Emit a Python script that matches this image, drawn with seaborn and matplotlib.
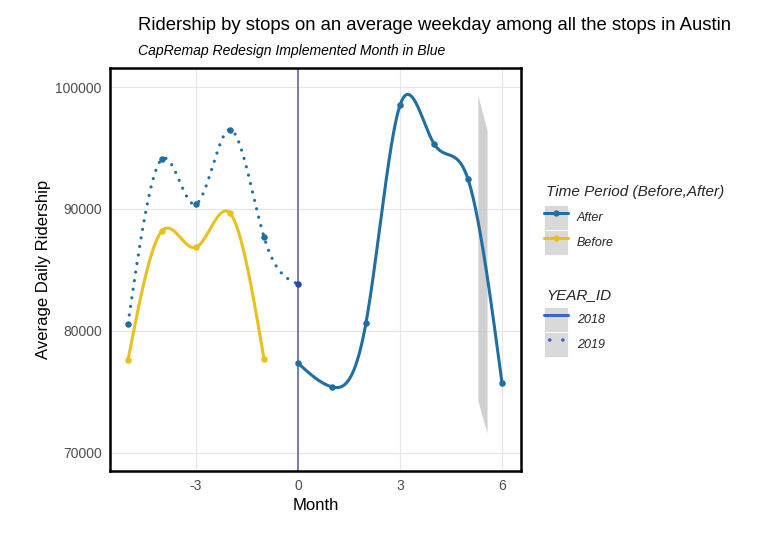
import numpy as np
import pandas as pd
import matplotlib
matplotlib.use("Agg")
import matplotlib.pyplot as plt
import seaborn as sns
from matplotlib.lines import Line2D
from matplotlib.patches import Patch
from matplotlib.legend_handler import HandlerTuple

# ---- data ----
months_before_2018 = [-5, -4, -3, -2, -1]
ridership_before_2018 = [77600, 88200, 86850, 89650, 77700]

months_2019 = [-5, -4, -3, -2, -1, 0]
ridership_2019 = [80600, 94100, 90400, 96500, 87700, 83850]

months_after_2018 = [0, 1, 2, 3, 4, 5, 6]
ridership_after_2018 = [77350, 75400, 80650, 98500, 95350, 92450, 75750]

ribbon_x = [5.29, 5.56]
ribbon_lo = [74300, 71600]
ribbon_hi = [99300, 96500]

x_ticks = [-3, 0, 3, 6]
y_ticks = [70000, 80000, 90000, 100000]

C_AFTER = "#1f6fa3"
C_BEFORE = "#e8c020"
C_YEAR = "#4060d0"
C_VLINE = "#5a5aa8"


def natural_spline(x, y, n=300):
    x = np.asarray(x, float)
    y = np.asarray(y, float)
    k = len(x)
    h = np.diff(x)
    A = np.zeros((k, k))
    b = np.zeros(k)
    A[0, 0] = 1
    A[-1, -1] = 1
    for i in range(1, k - 1):
        A[i, i - 1] = h[i - 1]
        A[i, i] = 2 * (h[i - 1] + h[i])
        A[i, i + 1] = h[i]
        b[i] = 6 * ((y[i + 1] - y[i]) / h[i] - (y[i] - y[i - 1]) / h[i - 1])
    M = np.linalg.solve(A, b)
    xs = np.linspace(x[0], x[-1], n)
    idx = np.clip(np.searchsorted(x, xs) - 1, 0, k - 2)
    x0, x1 = x[idx], x[idx + 1]
    hh = x1 - x0
    t1 = x1 - xs
    t0 = xs - x0
    ys = (M[idx] * t1 ** 3 + M[idx + 1] * t0 ** 3) / (6 * hh) \
        + (y[idx] / hh - M[idx] * hh / 6) * t1 \
        + (y[idx + 1] / hh - M[idx + 1] * hh / 6) * t0
    return xs, ys


sns.set_theme(style="whitegrid")
plt.rcParams["font.family"] = ["Liberation Sans", "DejaVu Sans"]

fig = plt.figure(figsize=(7.6, 5.41), dpi=100)
ax = fig.add_axes([110 / 760, 70 / 541, 411 / 760, 403 / 541])
ax.set_facecolor("white")

# ribbon
ax.fill_between(ribbon_x, ribbon_lo, ribbon_hi, color="#c8c8c8", alpha=0.85,
                linewidth=0, zorder=1)

# vertical line at month 0
ax.axvline(0, color=C_VLINE, linewidth=1.1, zorder=2)

# smooth curves
sx, sy = natural_spline(months_2019, ridership_2019)
df19 = pd.DataFrame({"Month": sx, "Ridership": sy})
sns.lineplot(data=df19, x="Month", y="Ridership", ax=ax, color=C_AFTER,
             linewidth=2.3, linestyle=(0, (0.01, 2.7)), dash_capstyle="round",
             zorder=3)

sx, sy = natural_spline(months_before_2018, ridership_before_2018)
dfb = pd.DataFrame({"Month": sx, "Ridership": sy})
sns.lineplot(data=dfb, x="Month", y="Ridership", ax=ax, color=C_BEFORE,
             linewidth=2.2, zorder=3)

sx, sy = natural_spline(months_after_2018, ridership_after_2018)
dfa = pd.DataFrame({"Month": sx, "Ridership": sy})
sns.lineplot(data=dfa, x="Month", y="Ridership", ax=ax, color=C_AFTER,
             linewidth=2.2, zorder=3)

# points
sns.scatterplot(x=months_2019[:-1], y=ridership_2019[:-1], ax=ax, color=C_AFTER,
                s=22, linewidth=0, zorder=4)
sns.scatterplot(x=[months_2019[-1]], y=[ridership_2019[-1]], ax=ax, color="#1f4faa",
                s=22, linewidth=0, zorder=4)
sns.scatterplot(x=months_before_2018, y=ridership_before_2018, ax=ax, color=C_BEFORE,
                s=22, linewidth=0, zorder=4)
sns.scatterplot(x=months_after_2018, y=ridership_after_2018, ax=ax, color=C_AFTER,
                s=22, linewidth=0, zorder=4)

ax.set_xlim(-5.53, 6.56)
ax.set_ylim(68500, 101560)
ax.set_xticks(x_ticks)
ax.set_yticks(y_ticks)
ax.set_xticklabels([str(t) for t in x_ticks])
ax.set_yticklabels([str(t) for t in y_ticks])
ax.tick_params(axis="both", colors="#4d4d4d", labelsize=10, length=0, pad=6)
ax.grid(True, color="#e6e6e6", linewidth=0.8)
ax.set_axisbelow(True)
for sp in ax.spines.values():
    sp.set_visible(True)
    sp.set_color("black")
    sp.set_linewidth(1.8)
ax.set_xlabel("Month", fontsize=12, color="black", labelpad=3)
ax.set_ylabel("Average Daily Ridership", fontsize=12, color="black", labelpad=3)

# titles
fig.text(138 / 760, 1 - 30 / 541, "Ridership by stops on an average weekday among all the stops in Austin",
         fontsize=13.3, color="black", va="baseline", ha="left")
fig.text(138 / 760, 1 - 55 / 541, "CapRemap Redesign Implemented Month in Blue",
         fontsize=10.1, color="black", style="italic", va="baseline", ha="left")

# legends
key_bg = "#d9d9d9"
hm = {tuple: HandlerTuple(ndivide=1, pad=0)}
leg_kw = dict(handler_map=hm, loc="upper left", frameon=False,
              prop={"size": 9, "style": "italic"},
              handlelength=1.92, handleheight=2.68, labelspacing=0.0,
              handletextpad=0.7, borderaxespad=0, borderpad=0)

fig.text(546 / 760, 1 - 192 / 541, "Time Period (Before,After)", fontsize=11,
         style="italic", va="center", ha="left")
h_after = (Patch(facecolor=key_bg, edgecolor="white", linewidth=0.6),
           Line2D([], [], color=C_AFTER, lw=2.2, marker="o", ms=3.5))
h_before = (Patch(facecolor=key_bg, edgecolor="white", linewidth=0.6),
            Line2D([], [], color=C_BEFORE, lw=2.2, marker="o", ms=3.5))
leg1 = fig.legend([h_after, h_before], ["After", "Before"],
                  bbox_to_anchor=(544 / 760, 1 - 205 / 541), **leg_kw)

fig.text(546 / 760, 1 - 295 / 541, "YEAR_ID", fontsize=11,
         style="italic", va="center", ha="left")
h18 = (Patch(facecolor=key_bg, edgecolor="white", linewidth=0.6),
       Line2D([], [], color=C_YEAR, lw=2.2))
h19 = (Patch(facecolor=key_bg, edgecolor="white", linewidth=0.6),
       Line2D([], [], color=C_YEAR, lw=2.6, linestyle=(-1.6, (0.01, 3.6)),
              dash_capstyle="round"))
leg2 = fig.legend([h18, h19], ["2018", "2019"],
                  bbox_to_anchor=(544 / 760, 1 - 307 / 541), **leg_kw)

fig.savefig("out.png", dpi=100, facecolor="white")
